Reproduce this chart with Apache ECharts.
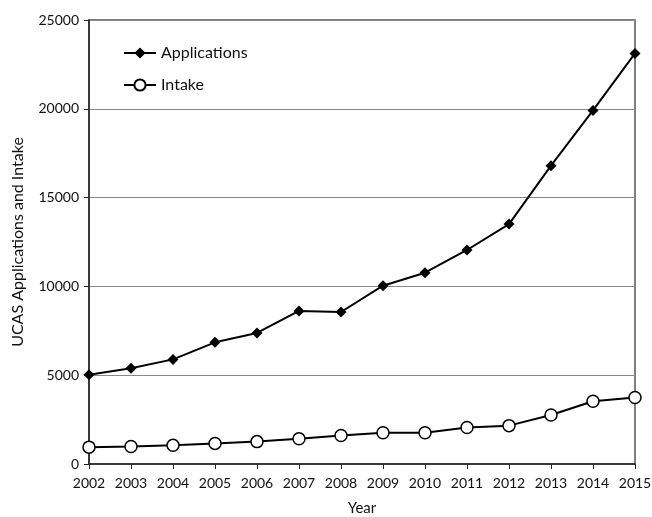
<!DOCTYPE html>
<html>
<head>
<meta charset="utf-8">
<script src="https://cdn.jsdelivr.net/npm/echarts@6/dist/echarts.min.js"></script>
<style>
  html, body { margin: 0; padding: 0; background: #fff; }
  #chart { width: 652px; height: 517px; }
</style>
</head>
<body>
<div id="chart"></div>
<script>
// data
var years = ['2002', '2003', '2004', '2005', '2006', '2007', '2008',
  '2009', '2010', '2011', '2012', '2013', '2014', '2015']
var applications = [5030, 5390, 5890, 6850, 7380, 8620, 8560,
  10040, 10770, 12050, 13510, 16800, 19910, 23120]
var intake = [950, 990, 1050, 1160, 1260, 1420, 1600,
  1760, 1760, 2060, 2160, 2760, 3530, 3740]

var font = 'Lato, "Open Sans", sans-serif'
var chart = echarts.init(document.getElementById('chart'))

chart.setOption({
  animation: false,
  textStyle: { fontFamily: font },
  grid: {
    left: 89,
    right: 17,
    top: 20,
    bottom: 53,
    outerBoundsMode: 'none',
    containLabel: false,
    show: true,
    borderColor: '#555',
    borderWidth: 1.5
  },
  legend: {
    orient: 'vertical',
    left: 118,
    top: 40,
    itemGap: 16,
    itemWidth: 32,
    itemHeight: 14,
    textStyle: { fontSize: 16, color: '#111', fontFamily: font },
    data: ['Applications', 'Intake']
  },
  xAxis: {
    type: 'category',
    data: years,
    boundaryGap: false,
    name: 'Year',
    nameLocation: 'middle',
    nameGap: 37,
    nameTextStyle: { fontSize: 15, color: '#111' },
    axisLine: { lineStyle: { color: '#222', width: 1.5 } },
    axisTick: { show: true, alignWithLabel: true, interval: 0, length: 5, lineStyle: { color: '#222' } },
    axisLabel: { fontSize: 14, color: '#111', margin: 12, interval: 0 },
    splitLine: { show: false }
  },
  yAxis: {
    type: 'value',
    min: 0,
    max: 25000,
    interval: 5000,
    name: 'UCAS Applications and Intake',
    nameLocation: 'middle',
    nameGap: 63,
    nameTextStyle: { fontSize: 16, color: '#111' },
    axisLine: { show: true, lineStyle: { color: '#222', width: 1.5 } },
    axisTick: { show: true, length: 5, lineStyle: { color: '#222' } },
    axisLabel: { fontSize: 14, color: '#111', margin: 10, formatter: function (v) { return String(v) } },
    splitLine: { lineStyle: { color: '#888', width: 1.2 } }
  },
  series: [{
    name: 'Applications',
    type: 'line',
    data: applications,
    symbol: 'diamond',
    symbolSize: 11,
    itemStyle: { color: '#000' },
    lineStyle: { color: '#000', width: 2 }
  }, {
    name: 'Intake',
    type: 'line',
    data: intake,
    symbol: 'circle',
    symbolSize: 12,
    itemStyle: { color: '#fff', borderColor: '#000', borderWidth: 1.5 },
    lineStyle: { color: '#000', width: 2 }
  }]
})
</script>
</body>
</html>
